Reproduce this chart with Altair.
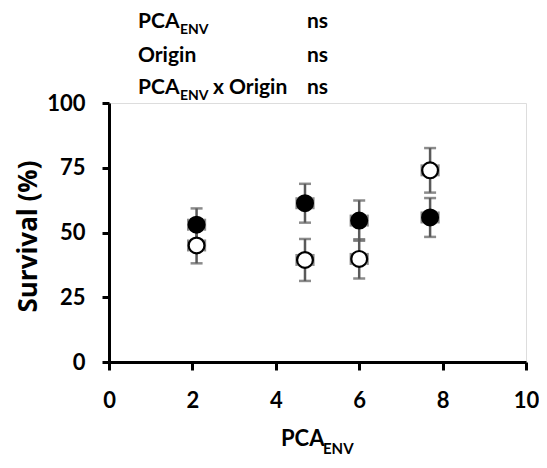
import altair as alt
import pandas as pd

# Data
pca_env = [2.1, 4.7, 6.0, 7.7]
survival_filled = [53.0, 61.3, 54.6, 55.8]
err_filled = [6.3, 7.5, 7.8, 7.5]
survival_open = [45.0, 39.4, 39.8, 74.0]
err_open = [6.9, 8.1, 7.6, 8.6]
x_err = [0.2, 0.2, 0.2, 0.2]

x_ticks = [0, 2, 4, 6, 8, 10]
y_ticks = [0, 25, 50, 75, 100]

rows = []
for grp, ys, es in [("filled", survival_filled, err_filled), ("open", survival_open, err_open)]:
    for x, y, e, xe in zip(pca_env, ys, es, x_err):
        rows.append({"origin": grp, "x": x, "y": y, "ylo": y - e, "yhi": y + e,
                     "xlo": x - xe, "xhi": x + xe})
df = pd.DataFrame(rows)

FONT = "Lato"
W, H = 417, 259
ERR = "#5a5a5a"

xs = alt.Scale(domain=[0, 10], nice=False)
ys_ = alt.Scale(domain=[0, 100], nice=False)

base = alt.Chart(df)

vbar = base.mark_rule(color=ERR, strokeWidth=2.5).encode(
    x=alt.X("x:Q", scale=xs,
            axis=alt.Axis(values=x_ticks, title=None, grid=False, domainColor="black",
                          domainWidth=3, tickColor="black", tickWidth=3, tickSize=8,
                          labelFont=FONT, labelFontSize=22, labelFontWeight="bold",
                          labelColor="black", labelPadding=20, labelFlush=False)),
    y=alt.Y("ylo:Q", scale=ys_,
            axis=alt.Axis(values=y_ticks, title="Survival (%)", grid=False, domainColor="black",
                          domainWidth=3, tickColor="black", tickWidth=3, tickSize=7,
                          labelFont=FONT, labelFontSize=22, labelFontWeight="bold",
                          labelColor="black", labelPadding=17, labelFlush=False,
                          titleFont="Open Sans", titleFontSize=26, titleFontWeight="bold",
                          titleColor="black", titleX=-81, titleY=133, titleAngle=270,
                          titleAlign="center", titleBaseline="middle")),
    y2="yhi:Q",
)
cap_lo = base.mark_tick(color=ERR, thickness=2.5, size=12, orient="horizontal").encode(
    x=alt.X("x:Q", scale=xs), y=alt.Y("ylo:Q", scale=ys_))
cap_hi = base.mark_tick(color=ERR, thickness=2.5, size=12, orient="horizontal").encode(
    x=alt.X("x:Q", scale=xs), y=alt.Y("yhi:Q", scale=ys_))
hbar = base.mark_rule(color=ERR, strokeWidth=2.5).encode(
    x=alt.X("xlo:Q", scale=xs), x2="xhi:Q", y=alt.Y("y:Q", scale=ys_))
cap_l = base.mark_tick(color=ERR, thickness=2.5, size=12, orient="vertical").encode(
    x=alt.X("xlo:Q", scale=xs), y=alt.Y("y:Q", scale=ys_))
cap_r = base.mark_tick(color=ERR, thickness=2.5, size=12, orient="vertical").encode(
    x=alt.X("xhi:Q", scale=xs), y=alt.Y("y:Q", scale=ys_))

points = base.mark_point(filled=True, size=250, strokeWidth=2.2, opacity=1).encode(
    x=alt.X("x:Q", scale=xs),
    y=alt.Y("y:Q", scale=ys_),
    fill=alt.Fill("origin:N", scale=alt.Scale(domain=["filled", "open"], range=["black", "white"]), legend=None),
    stroke=alt.value("black"),
)


def label(txt, x, y, size=21, weight="bold"):
    return alt.Chart(pd.DataFrame({"t": [txt]})).mark_text(
        font=FONT, fontSize=size, fontWeight=weight, align="left", baseline="alphabetic",
        color="black").encode(text="t:N", x=alt.value(x), y=alt.value(y))


annotations = [
    label("PCA", 29, -75), label("ENV", 71, -69, size=14), label("ns", 198, -75),
    label("Origin", 29, -41), label("ns", 198, -41),
    label("PCA", 29, -9), label("ENV", 71, -3, size=14), label("x Origin", 104, -9), label("ns", 198, -9),
    label("PCA", 172, 343, size=22), label("ENV", 214, 351, size=15),
]

chart = alt.layer(vbar, cap_lo, cap_hi, hbar, cap_l, cap_r, points, *annotations).properties(
    width=W, height=H,
    autosize=alt.AutoSizeParams(type="none"),
    padding={"left": 101, "top": 95, "right": 13, "bottom": 96},
).configure_view(stroke=None).configure(background="white")

chart.save("out.html", embed_options={"renderer": "svg", "actions": False})
